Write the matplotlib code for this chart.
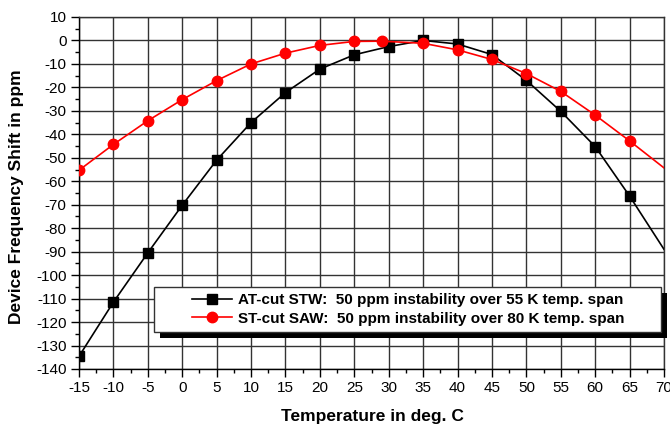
import matplotlib
matplotlib.use("Agg")
import matplotlib.pyplot as plt
from matplotlib.patches import Rectangle
from matplotlib.ticker import MultipleLocator

plt.rcParams['font.family'] = ['Liberation Sans', 'DejaVu Sans']
plt.rcParams['axes.unicode_minus'] = False

# AT-cut STW (last point is where the curve leaves the plot, no marker)
at_temp = [-15, -10, -5, 0, 5, 10, 15, 20, 25, 30, 35, 40, 45, 50, 55, 60, 65, 70]
at_shift = [-134.6, -111.5, -90.5, -70.2, -51, -35, -22.2, -12.2, -6.1, -2.6, 0, -1.5, -6, -17, -30.2, -45.2, -66.3, -89]

# ST-cut SAW
st_temp = [-15, -10, -5, 0, 5, 10, 15, 20, 25, 29, 35, 40, 45, 50, 55, 60, 65, 70]
st_shift = [-55.3, -44.3, -34.2, -25.2, -17.1, -10, -5.4, -2.1, -0.4, -0.3, -1.2, -4, -8.1, -14.1, -21.7, -31.8, -42.8, -54.3]

at_label = "AT-cut STW:  50 ppm instability over 55 K temp. span"
st_label = "ST-cut SAW:  50 ppm instability over 80 K temp. span"

x_ticks = list(range(-15, 71, 5))
y_ticks = list(range(-140, 11, 10))

W, H = 670, 428
fig = plt.figure(figsize=(6.7, 4.28), dpi=100)
ax = fig.add_axes([79/W, 1-369/H, (664-79)/W, (369-17)/H])

ax.plot(at_temp, at_shift, color='black', lw=1.2, marker='s', ms=6.5,
        markevery=slice(0, len(at_temp)-1), label=at_label, zorder=3)
ax.plot(st_temp, st_shift, color='#ff0000', lw=1.2, marker='o', ms=7.5,
        markevery=slice(0, len(st_temp)-1), label=st_label, zorder=3)

ax.set_xlim(-15, 70)
ax.set_ylim(-140, 10)
ax.set_xticks(x_ticks)
ax.set_yticks(y_ticks)
ax.xaxis.set_minor_locator(MultipleLocator(2.5))
ax.yaxis.set_minor_locator(MultipleLocator(5))
ax.tick_params(which='major', direction='out', length=6, width=1, labelsize=11, pad=3)
ax.tick_params(which='minor', direction='out', length=3, width=1)
ax.grid(True, which='major', color='#333333', lw=1.0)
for s in ax.spines.values():
    s.set_color('#333333')
    s.set_linewidth(1.0)
ax.spines['left'].set_color('black')
ax.spines['bottom'].set_color('black')

fig.text(372/W, 1-417/H, "Temperature in deg. C", fontsize=12.5, fontweight='bold',
         ha='center', va='center')
fig.text(17/W, 1-197/H, "Device Frequency Shift in ppm", fontsize=12.5, fontweight='bold',
         ha='center', va='center', rotation=90)

# legend box with hard shadow
bx0, bx1, by0, by1 = 154, 661, 287, 332
sh = 6
ax.add_artist(Rectangle(((bx0+sh)/W, 1-(by1+sh)/H), (bx1-bx0)/W, (by1-by0)/H,
                        transform=fig.transFigure, facecolor='black', edgecolor='none',
                        zorder=5, clip_on=False))
ax.add_artist(Rectangle((bx0/W, 1-by1/H), (bx1-bx0)/W, (by1-by0)/H,
                        transform=fig.transFigure, facecolor='white', edgecolor='#333333',
                        lw=1.0, zorder=5.2, clip_on=False))
leg = ax.legend(loc='center left', bbox_to_anchor=(192/W, 1-(by0+by1)/2/H),
                bbox_transform=fig.transFigure, frameon=False,
                prop={'weight': 'bold', 'size': 11}, handlelength=2.6,
                borderpad=0, labelspacing=0.3, handletextpad=0.4,
                borderaxespad=0)
leg.set_zorder(6)

fig.savefig("out.png", dpi=100)
